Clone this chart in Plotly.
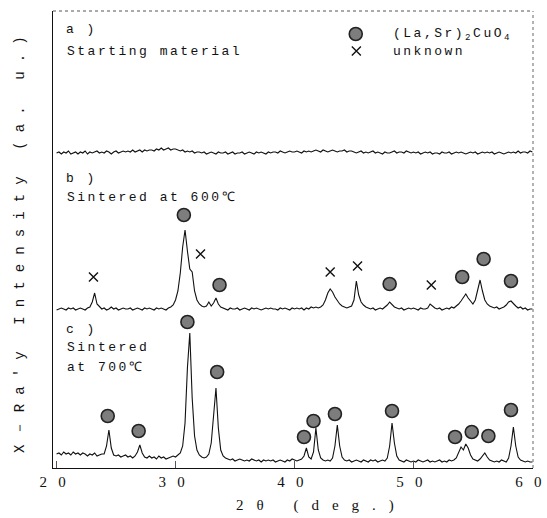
import numpy as np
import plotly.graph_objects as go

# 2theta grid (deg), 0.2 deg steps
two_theta = np.round(np.arange(20.0, 60.0001, 0.2), 1)

# a) Starting material (intensity above its own baseline, a.u.)
start_material = [
    0, 1, -1, 1, 0, 2, -1, 0, 1, -1,
    1, 0, 2, -1, 1, 0, 1, 2, 0, 1,
    0, 2, 1, -1, 1, 2, 0, 1, 2, 1,
    2, 1, 3, 1, 2, 3, 1, 3, 2, 3,
    3, 2, 4, 3, 5, 3, 4, 5, 3, 4,
    4, 3, 2, 3, 1, 2, 1, 2, 0, 1,
    1, 0, 1, -1, 0, 1, 0, -1, 1, 0,
    0, 1, -1, 0, 1, -1, 0, 0, 1, -1,
    0, 1, 0, -1, 1, 0, 1, 0, -1, 1,
    0, 1, 1, 0, 2, 1, 0, 1, 2, 1,
    1, 2, 1, 0, 2, 1, 2, 1, 2, 3,
    2, 1, 3, 2, 1, 2, 3, 2, 1, 2,
    2, 3, 1, 2, 2, 1, 0, 1, 2, 0,
    1, 0, 1, 2, 0, 1, 0, -1, 1, 0,
    0, 1, 2, 0, 1, 1, 0, 2, 1, 0,
    1, 0, 1, -1, 0, 1, 0, 1, -1, 0,
    0, -1, 1, 0, 0, 1, -1, 0, 1, 0,
    1, 0, -1, 0, 1, 0, 1, -1, 0, 1,
    0, 1, 0, 1, -1, 0, 1, 0, -1, 0,
    1, 0, 1, 0, 2, 0, 1, 1, 0, 2,
    1,
]

# b) Sintered at 600 C
sintered_600 = [
    -1, 0, 1, 0, -1, 1, 0, 1, -1, 0,
    1, 0, -1, 1, 2, 7, 16, 5, 2, 0,
    1, -1, 0, 2, 0, 1, -1, 0, 1, 0,
    0, 1, -1, 0, 1, 0, -1, 1, 0, 1,
    0, -1, 1, 0, 1, 0, -1, 1, 2, 4,
    9, 18, 36, 62, 79, 58, 40, 37, 18, 9,
    5, 3, 2, 3, 7, 3, 6, 11, 5, 2,
    1, 0, -1, 1, 0, 0, 1, -1, 0, 1,
    0, -1, 1, 0, 1, 0, -1, 0, 1, 0,
    1, 0, 0, -1, 1, 0, 1, 0, -1, 1,
    0, 1, 0, 1, -1, 1, 0, 2, 1, 2,
    1, 2, 4, 9, 16, 20, 17, 12, 8, 5,
    3, 2, 1, 2, 3, 9, 28, 14, 7, 4,
    2, 1, 0, 1, -1, 0, 1, 0, 2, 4,
    7, 4, 2, 1, 0, 1, -1, 0, 1, 0,
    1, 0, -1, 1, 0, 0, 1, 5, 3, 1,
    0, 1, -1, 0, 1, 0, 2, 1, 3, 5,
    8, 12, 15, 11, 8, 5, 9, 20, 29, 18,
    9, 5, 3, 2, 1, 2, 0, 1, 2, 4,
    7, 8, 5, 3, 1, 2, 0, 1, -1, 0,
    0,
]

# c) Sintered at 700 C
sintered_700 = [
    14, 15, 13, 16, 14, 15, 13, 16, 14, 15,
    13, 15, 14, 12, 14, 13, 15, 12, 13, 14,
    14, 22, 38, 20, 13, 12, 13, 11, 12, 13,
    11, 12, 10, 12, 16, 23, 15, 11, 10, 12,
    10, 11, 9, 12, 10, 11, 9, 10, 11, 12,
    11, 13, 15, 22, 45, 100, 135, 70, 32, 18,
    13, 11, 10, 11, 14, 25, 55, 80, 40, 18,
    12, 10, 9, 8, 9, 7, 8, 9, 8, 7,
    8, 7, 9, 8, 7, 8, 6, 8, 7, 8,
    7, 8, 6, 7, 8, 7, 6, 8, 7, 9,
    8, 7, 8, 9, 12, 20, 11, 9, 16, 40,
    18, 10, 8, 7, 8, 7, 10, 22, 43, 22,
    11, 8, 7, 8, 6, 7, 8, 7, 6, 8,
    7, 6, 8, 7, 8, 6, 7, 8, 7, 10,
    22, 45, 25, 12, 8, 7, 6, 8, 7, 6,
    7, 6, 8, 7, 6, 7, 8, 6, 7, 6,
    7, 8, 6, 7, 6, 8, 7, 8, 10, 16,
    21, 18, 24, 20, 13, 9, 8, 7, 9, 12,
    15, 11, 8, 7, 6, 7, 6, 8, 7, 6,
    10, 22, 41, 22, 11, 8, 7, 6, 7, 6,
    6,
]

# peak markers (2theta, height relative to each pattern's baseline)
lsco_b_x = [30.7, 33.7, 48.0, 54.1, 55.9, 58.2]
lsco_b_y = [94, 24, 25, 32, 50, 28]
unk_b_x = [23.1, 32.1, 43.0, 45.3, 51.5]
unk_b_y = [32, 55, 37, 43, 24]
lsco_c_x = [24.3, 26.9, 31.0, 33.5, 40.8, 41.6, 43.4, 48.2, 53.5, 54.9, 56.3, 58.2]
lsco_c_y = [52, 37, 146, 96, 31, 47, 54, 57, 31, 36, 32, 58]

tick_vals = [20, 30, 40, 50, 60]
tick_text = ["2\u2002\u00a00", "3\u2002\u00a00", "4\u2002\u00a00", "5\u2002\u00a00", "6\u2002\u00a00"]

# vertical stacking offsets
off_a, off_b, off_c = 315, 159, 0

def sp(t, ls):
    return f'<span style="letter-spacing:{ls}px">{t}</span>'

line_style = dict(color="#111111", width=1.1)
circle_style = dict(symbol="circle", size=13, color="#7d7d7d",
                    line=dict(color="#222222", width=1.6))
cross_style = dict(symbol="x-thin-open", size=9, color="#111111",
                   line=dict(color="#111111", width=1.4))

fig = go.Figure()
for vals, off in [(start_material, off_a), (sintered_600, off_b), (sintered_700, off_c)]:
    fig.add_trace(go.Scatter(x=two_theta, y=np.array(vals) + off, mode="lines",
                             line=line_style, hoverinfo="skip", showlegend=False))

fig.add_trace(go.Scatter(x=lsco_b_x, y=np.array(lsco_b_y) + off_b, mode="markers",
                         marker=circle_style, showlegend=False))
fig.add_trace(go.Scatter(x=unk_b_x, y=np.array(unk_b_y) + off_b, mode="markers",
                         marker=cross_style, showlegend=False))
fig.add_trace(go.Scatter(x=lsco_c_x, y=np.array(lsco_c_y) + off_c, mode="markers",
                         marker=circle_style, showlegend=False))

# legend symbols
fig.add_trace(go.Scatter(x=[45.15], y=[434], mode="markers", marker=circle_style, showlegend=False))
fig.add_trace(go.Scatter(x=[45.2], y=[417], mode="markers", marker=cross_style, showlegend=False))

mono = dict(family="Liberation Mono", size=13, color="#111111")
labels = [
    (20.6, 439, "a )"),
    (20.75, 417, "Starting material"),
    (20.6, 290, "b )"),
    (20.75, 271, "Sintered at 600℃"),
    (20.6, 139, "c )"),
    (20.75, 121, "Sintered"),
    (20.75, 101, "at 700℃"),
    (48.1, 434, "(La,Sr)<sub>2</sub>CuO<sub>4</sub>"),
    (48.1, 417, "unknown"),
]
for x, y, t in labels:
    fig.add_annotation(x=x, y=y, xref="x", yref="y", text=sp(t, 2.5), showarrow=False,
                       xanchor="left", yanchor="middle", font=mono)

# axis titles
fig.add_annotation(x=42.3, y=-0.082, xref="x", yref="paper",
                   text=sp("2θ (deg.)", 13), showarrow=False,
                   xanchor="center", yanchor="middle",
                   font=dict(family="Liberation Serif", size=15, color="#111111"))
fig.add_annotation(x=-0.07, y=0.50, xref="paper", yref="paper",
                   text=sp("X－Ra'y Intensity (a. u.)", 9.1), showarrow=False,
                   textangle=-90, xanchor="center", yanchor="middle",
                   font=dict(family="Liberation Mono", size=14, color="#111111"))

# dashed top/right frame (scanned look)
fig.add_shape(type="line", xref="x domain", yref="y domain", x0=0, x1=1, y0=1, y1=1,
              line=dict(color="#555555", width=1, dash="dot"))
fig.add_shape(type="line", xref="x domain", yref="y domain", x0=1, x1=1, y0=0, y1=1,
              line=dict(color="#666666", width=1, dash="dot"))

fig.update_xaxes(range=[19.7, 60.05], tickvals=tick_vals, ticktext=tick_text,
                 ticks="inside", ticklen=7, tickcolor="#555555", tickwidth=1,
                 ticklabelshift=-4, automargin=False,
                 showline=True, linecolor="#111111", linewidth=1.2,
                 showgrid=False, zeroline=False,
                 tickfont=dict(family="Liberation Serif", size=15, color="#111111"))
fig.update_yaxes(range=[0, 457], showticklabels=False, ticks="", automargin=False,
                 showline=True, linecolor="#111111", linewidth=1.2,
                 showgrid=False, zeroline=False)

fig.update_layout(width=547, height=518, margin=dict(l=53, r=14, t=11, b=50),
                  plot_bgcolor="white", paper_bgcolor="white", showlegend=False)

fig.write_html("out.html")
